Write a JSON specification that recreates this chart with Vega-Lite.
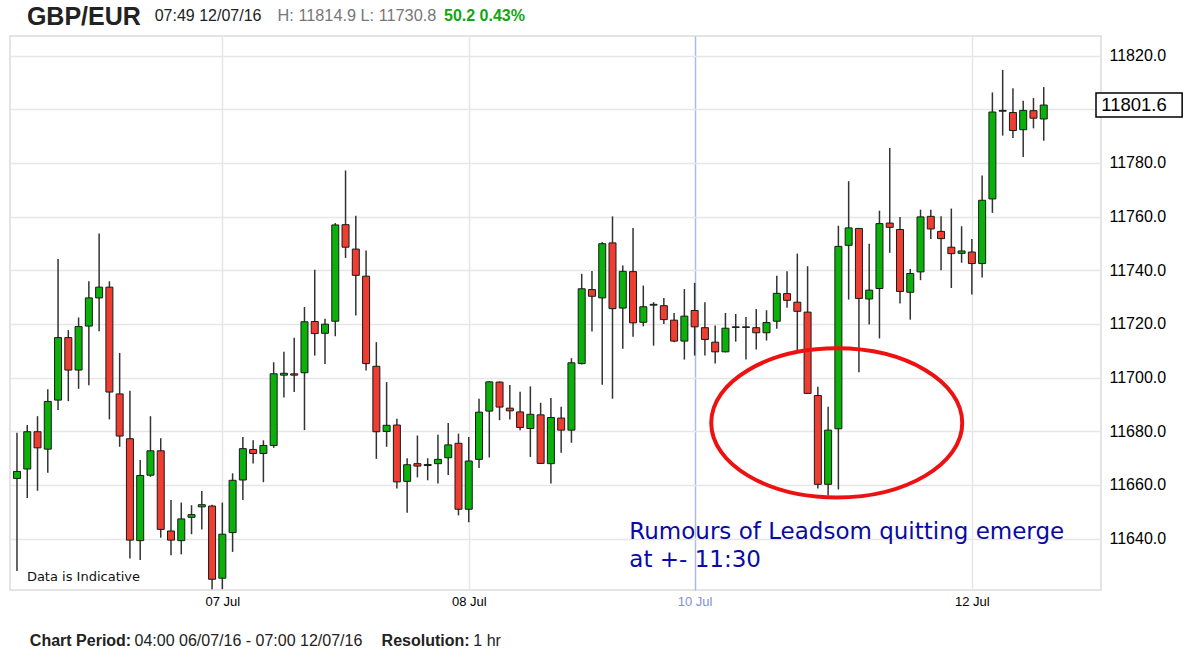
{
  "$schema": "https://vega.github.io/schema/vega-lite/v6.json",
  "width": 1091,
  "height": 554,
  "autosize": {"type": "none"},
  "padding": {"left": 10, "top": 36, "right": 93, "bottom": 68},
  "background": "white",
  "config": {
    "view": {"stroke": "#dcdcdc", "strokeWidth": 1.5},
    "font": "Liberation Sans"
  },
  "data": {"values": [
    {"i":1,"o":11662.4,"h":11679.4,"l":11627.9,"c":11665.0},
    {"i":2,"o":11665.9,"h":11682.3,"l":11655.1,"c":11679.8},
    {"i":3,"o":11679.8,"h":11685.6,"l":11657.8,"c":11673.8},
    {"i":4,"o":11673.3,"h":11695.6,"l":11664.5,"c":11691.1},
    {"i":5,"o":11691.6,"h":11744.2,"l":11687.9,"c":11714.9},
    {"i":6,"o":11714.9,"h":11717.7,"l":11691.2,"c":11702.8},
    {"i":7,"o":11702.8,"h":11722.4,"l":11695.8,"c":11719.0},
    {"i":8,"o":11719.2,"h":11735.9,"l":11697.1,"c":11729.7},
    {"i":9,"o":11729.7,"h":11753.7,"l":11717.3,"c":11733.7},
    {"i":10,"o":11733.7,"h":11735.9,"l":11684.4,"c":11694.6},
    {"i":11,"o":11693.9,"h":11709.2,"l":11674.2,"c":11678.2},
    {"i":12,"o":11677.2,"h":11695.1,"l":11632.5,"c":11639.4},
    {"i":13,"o":11639.2,"h":11669.3,"l":11632.0,"c":11663.5},
    {"i":14,"o":11663.6,"h":11685.6,"l":11663.0,"c":11672.7},
    {"i":15,"o":11672.7,"h":11677.4,"l":11640.3,"c":11643.4},
    {"i":16,"o":11642.8,"h":11654.4,"l":11633.8,"c":11639.4},
    {"i":17,"o":11639.2,"h":11653.4,"l":11634.1,"c":11647.3},
    {"i":18,"o":11647.9,"h":11652.4,"l":11641.6,"c":11648.9},
    {"i":19,"o":11651.8,"h":11657.7,"l":11643.4,"c":11652.6},
    {"i":20,"o":11652.1,"h":11652.6,"l":11621.1,"c":11624.8},
    {"i":21,"o":11625.2,"h":11653.4,"l":11621.1,"c":11641.6},
    {"i":22,"o":11642.2,"h":11664.3,"l":11635.0,"c":11661.7},
    {"i":23,"o":11661.8,"h":11677.8,"l":11654.4,"c":11673.5},
    {"i":24,"o":11673.2,"h":11676.6,"l":11668.0,"c":11671.7},
    {"i":25,"o":11671.7,"h":11676.6,"l":11661.0,"c":11674.7},
    {"i":26,"o":11674.7,"h":11705.7,"l":11673.8,"c":11701.4},
    {"i":27,"o":11700.9,"h":11709.6,"l":11692.6,"c":11701.6},
    {"i":28,"o":11701.4,"h":11714.8,"l":11694.6,"c":11700.9},
    {"i":29,"o":11701.8,"h":11726.3,"l":11680.4,"c":11720.8},
    {"i":30,"o":11720.9,"h":11740.2,"l":11708.2,"c":11716.4},
    {"i":31,"o":11716.5,"h":11721.9,"l":11705.1,"c":11719.9},
    {"i":32,"o":11721.0,"h":11757.6,"l":11715.4,"c":11756.9},
    {"i":33,"o":11757.0,"h":11777.2,"l":11744.6,"c":11748.6},
    {"i":34,"o":11747.9,"h":11760.3,"l":11723.1,"c":11738.1},
    {"i":35,"o":11737.8,"h":11747.4,"l":11702.6,"c":11705.2},
    {"i":36,"o":11704.2,"h":11713.2,"l":11669.7,"c":11679.8},
    {"i":37,"o":11679.9,"h":11698.3,"l":11674.2,"c":11682.2},
    {"i":38,"o":11682.3,"h":11684.6,"l":11658.6,"c":11661.1},
    {"i":39,"o":11661.3,"h":11669.9,"l":11649.6,"c":11667.5},
    {"i":40,"o":11667.9,"h":11678.4,"l":11662.8,"c":11667.0},
    {"i":41,"o":11667.2,"h":11669.9,"l":11661.7,"c":11667.6},
    {"i":42,"o":11667.9,"h":11678.7,"l":11660.5,"c":11669.5},
    {"i":43,"o":11670.1,"h":11683.1,"l":11663.7,"c":11674.9},
    {"i":44,"o":11675.5,"h":11679.1,"l":11648.6,"c":11650.9},
    {"i":45,"o":11650.9,"h":11677.8,"l":11646.1,"c":11668.9},
    {"i":46,"o":11669.5,"h":11692.1,"l":11666.3,"c":11687.1},
    {"i":47,"o":11687.5,"h":11698.7,"l":11670.2,"c":11698.4},
    {"i":48,"o":11698.3,"h":11698.6,"l":11684.1,"c":11689.0},
    {"i":49,"o":11688.6,"h":11697.2,"l":11684.4,"c":11687.6},
    {"i":50,"o":11687.2,"h":11694.7,"l":11680.4,"c":11681.4},
    {"i":51,"o":11681.0,"h":11696.7,"l":11670.4,"c":11686.3},
    {"i":52,"o":11686.1,"h":11690.6,"l":11667.8,"c":11668.0},
    {"i":53,"o":11667.9,"h":11692.4,"l":11660.5,"c":11685.1},
    {"i":54,"o":11684.9,"h":11689.1,"l":11672.0,"c":11680.4},
    {"i":55,"o":11680.4,"h":11707.2,"l":11675.7,"c":11705.5},
    {"i":56,"o":11705.2,"h":11738.7,"l":11704.9,"c":11733.1},
    {"i":57,"o":11732.8,"h":11739.7,"l":11717.2,"c":11730.3},
    {"i":58,"o":11729.7,"h":11750.5,"l":11697.3,"c":11749.9},
    {"i":59,"o":11750.2,"h":11760.1,"l":11692.1,"c":11725.7},
    {"i":60,"o":11725.9,"h":11741.8,"l":11710.7,"c":11739.6},
    {"i":61,"o":11739.5,"h":11755.8,"l":11715.2,"c":11720.4},
    {"i":62,"o":11720.6,"h":11734.3,"l":11719.1,"c":11726.4},
    {"i":63,"o":11727.0,"h":11728.1,"l":11711.9,"c":11727.3},
    {"i":64,"o":11726.8,"h":11729.7,"l":11720.0,"c":11721.6},
    {"i":65,"o":11721.4,"h":11724.1,"l":11713.2,"c":11713.6},
    {"i":66,"o":11713.6,"h":11733.0,"l":11706.7,"c":11722.9},
    {"i":67,"o":11725.0,"h":11735.3,"l":11708.2,"c":11718.9},
    {"i":68,"o":11718.6,"h":11728.1,"l":11708.2,"c":11714.2},
    {"i":69,"o":11713.2,"h":11719.4,"l":11705.2,"c":11709.6},
    {"i":70,"o":11709.6,"h":11724.1,"l":11709.4,"c":11718.4},
    {"i":71,"o":11718.7,"h":11723.7,"l":11713.4,"c":11718.9},
    {"i":72,"o":11718.9,"h":11722.6,"l":11706.7,"c":11718.7},
    {"i":73,"o":11718.6,"h":11725.6,"l":11710.5,"c":11716.7},
    {"i":74,"o":11716.7,"h":11725.1,"l":11713.8,"c":11720.5},
    {"i":75,"o":11721.0,"h":11738.0,"l":11718.2,"c":11731.4},
    {"i":76,"o":11731.3,"h":11739.6,"l":11726.0,"c":11728.8},
    {"i":77,"o":11728.1,"h":11746.2,"l":11709.8,"c":11724.7},
    {"i":78,"o":11724.4,"h":11741.5,"l":11693.9,"c":11694.1},
    {"i":79,"o":11693.3,"h":11696.6,"l":11658.6,"c":11660.2},
    {"i":80,"o":11660.2,"h":11689.1,"l":11656.0,"c":11680.4},
    {"i":81,"o":11680.9,"h":11756.6,"l":11658.3,"c":11748.9},
    {"i":82,"o":11749.3,"h":11773.2,"l":11729.1,"c":11755.8},
    {"i":83,"o":11755.6,"h":11755.8,"l":11702.0,"c":11729.5},
    {"i":84,"o":11729.3,"h":11749.9,"l":11719.8,"c":11732.6},
    {"i":85,"o":11733.2,"h":11762.2,"l":11714.6,"c":11757.4},
    {"i":86,"o":11757.6,"h":11785.6,"l":11746.5,"c":11756.0},
    {"i":87,"o":11755.2,"h":11759.9,"l":11727.6,"c":11732.1},
    {"i":88,"o":11731.8,"h":11740.5,"l":11721.6,"c":11738.8},
    {"i":89,"o":11739.4,"h":11762.6,"l":11736.3,"c":11759.9},
    {"i":90,"o":11760.1,"h":11762.6,"l":11751.7,"c":11755.4},
    {"i":91,"o":11754.5,"h":11760.1,"l":11740.0,"c":11751.8},
    {"i":92,"o":11748.6,"h":11763.0,"l":11733.4,"c":11746.2},
    {"i":93,"o":11746.3,"h":11756.4,"l":11742.8,"c":11747.2},
    {"i":94,"o":11746.8,"h":11751.7,"l":11731.0,"c":11742.5},
    {"i":95,"o":11742.5,"h":11775.3,"l":11737.3,"c":11766.1},
    {"i":96,"o":11766.6,"h":11806.3,"l":11761.4,"c":11799.0},
    {"i":97,"o":11799.3,"h":11814.7,"l":11790.2,"c":11799.6},
    {"i":98,"o":11798.8,"h":11807.9,"l":11789.3,"c":11792.1},
    {"i":99,"o":11792.4,"h":11803.2,"l":11782.2,"c":11799.6},
    {"i":100,"o":11799.5,"h":11804.2,"l":11792.9,"c":11796.7},
    {"i":101,"o":11796.4,"h":11808.3,"l":11788.3,"c":11801.6}
  ]},
  "layer": [
    {
      "mark": {"type": "rule", "color": "#333333", "strokeWidth": 1.5, "clip": true},
      "encoding": {
        "x": {
          "field": "i", "type": "quantitative",
          "scale": {"domain": [0.807, 106.09], "nice": false, "zero": false},
          "axis": {
            "title": null,
            "values": [21, 45, 67, 94],
            "labelExpr": "datum.value == 21 ? '07 Jul' : datum.value == 45 ? '08 Jul' : datum.value == 67 ? '10 Jul' : '12 Jul'",
            "labelFont": "Liberation Sans",
            "labelFontSize": 13,
            "labelColor": {"condition": {"test": "datum.value == 67", "value": "#7f90d8"}, "value": "#000000"},
            "labelPadding": 5,
            "ticks": false,
            "domain": false,
            "grid": true,
            "gridColor": {"condition": {"test": "datum.value == 67", "value": "#aebbe8"}, "value": "#e6e6e6"},
            "gridWidth": 1.5,
            "gridOpacity": 1
          }
        },
        "y": {
          "field": "l", "type": "quantitative",
          "scale": {"domain": [11620.8, 11827.34], "nice": false, "zero": false},
          "axis": {
            "title": null,
            "orient": "right",
            "values": [11640, 11660, 11680, 11700, 11720, 11740, 11760, 11780, 11800, 11820],
            "labelExpr": "datum.value == 11800 ? '' : format(datum.value, '.1f')",
            "labelFont": "Liberation Sans",
            "labelFontSize": 16,
            "labelColor": "#000000",
            "labelPadding": 8,
            "ticks": false,
            "domain": false,
            "grid": true,
            "gridColor": "#e6e6e6",
            "gridWidth": 1.5,
            "gridOpacity": 1
          }
        },
        "y2": {"field": "h"}
      }
    },
    {
      "mark": {"type": "bar", "width": 7, "stroke": "#1a1a1a", "strokeWidth": 1, "clip": true},
      "encoding": {
        "x": {"field": "i", "type": "quantitative"},
        "y": {"field": "o", "type": "quantitative"},
        "y2": {"field": "c"},
        "fill": {"condition": {"test": "datum.c >= datum.o", "value": "#0ab10a"}, "value": "#ee3d31"}
      }
    },
    {
      "data": {"values": [{}]},
      "mark": {"type": "point", "shape": "M -1 0 A 1 0.594 0 1 1 1 0 A 1 0.594 0 1 1 -1 0 Z", "size": 63001, "filled": false, "stroke": "#ee1111", "strokeWidth": 4, "opacity": 1},
      "encoding": {
        "x": {"datum": 80.84, "type": "quantitative"},
        "y": {"datum": 11683.1, "type": "quantitative"}
      }
    },
    {
      "data": {"values": [{}]},
      "mark": {"type": "text", "text": ["Rumours of Leadsom quitting emerge", "at +- 11:30"], "font": "DejaVu Sans", "fontSize": 23, "lineHeight": 28, "align": "left", "baseline": "alphabetic", "color": "#0a0aa5"},
      "encoding": {
        "x": {"datum": 60.64, "type": "quantitative"},
        "y": {"datum": 11639.9, "type": "quantitative"}
      }
    },
    {
      "data": {"values": [{}]},
      "mark": {"type": "text", "text": "Data is Indicative", "font": "DejaVu Sans", "fontSize": 13, "align": "left", "baseline": "middle", "color": "#111111"},
      "encoding": {
        "x": {"datum": 1.965, "type": "quantitative"},
        "y": {"datum": 11625.7, "type": "quantitative"}
      }
    },
    {
      "data": {"values": [{}]},
      "mark": {"type": "rect", "fill": "white", "stroke": "#000000", "strokeWidth": 1.5},
      "encoding": {
        "x": {"datum": 106.09, "type": "quantitative"},
        "x2": {"datum": 114.48},
        "y": {"datum": 11806.05, "type": "quantitative"},
        "y2": {"datum": 11797.1}
      }
    },
    {
      "data": {"values": [{}]},
      "mark": {"type": "text", "text": "11801.6", "font": "Liberation Sans", "fontSize": 18.5, "align": "left", "baseline": "middle", "color": "#000000"},
      "encoding": {
        "x": {"datum": 106.6, "type": "quantitative"},
        "y": {"datum": 11801.6, "type": "quantitative"}
      }
    },
    {
      "data": {"values": [{}]},
      "mark": {"type": "text", "text": "GBP/EUR", "font": "Liberation Sans", "fontWeight": "bold", "fontSize": 25, "align": "left", "baseline": "alphabetic", "color": "#222222"},
      "encoding": {
        "x": {"datum": 1.965, "type": "quantitative"},
        "y": {"datum": 11831.3, "type": "quantitative"}
      }
    },
    {
      "data": {"values": [{}]},
      "mark": {"type": "text", "text": "07:49 12/07/16", "font": "Liberation Sans", "fontSize": 16, "align": "left", "baseline": "alphabetic", "color": "#222222"},
      "encoding": {
        "x": {"datum": 14.41, "type": "quantitative"},
        "y": {"datum": 11833.0, "type": "quantitative"}
      }
    },
    {
      "data": {"values": [{}]},
      "mark": {"type": "text", "text": "H: 11814.9 L: 11730.8", "font": "Liberation Sans", "fontSize": 16.3, "align": "left", "baseline": "alphabetic", "color": "#777777"},
      "encoding": {
        "x": {"datum": 26.38, "type": "quantitative"},
        "y": {"datum": 11833.0, "type": "quantitative"}
      }
    },
    {
      "data": {"values": [{}]},
      "mark": {"type": "text", "text": "50.2 0.43%", "font": "Liberation Sans", "fontWeight": "bold", "fontSize": 16, "align": "left", "baseline": "alphabetic", "color": "#10a810"},
      "encoding": {
        "x": {"datum": 42.59, "type": "quantitative"},
        "y": {"datum": 11833.0, "type": "quantitative"}
      }
    },
    {
      "data": {"values": [{}]},
      "mark": {"type": "text", "text": "Chart Period:", "font": "Liberation Sans", "fontWeight": "bold", "fontSize": 16, "align": "left", "baseline": "alphabetic", "color": "#222222"},
      "encoding": {
        "x": {"datum": 2.254, "type": "quantitative"},
        "y": {"datum": 11599.9, "type": "quantitative"}
      }
    },
    {
      "data": {"values": [{}]},
      "mark": {"type": "text", "text": "04:00 06/07/16 - 07:00 12/07/16", "font": "Liberation Sans", "fontSize": 16, "align": "left", "baseline": "alphabetic", "color": "#222222"},
      "encoding": {
        "x": {"datum": 12.45, "type": "quantitative"},
        "y": {"datum": 11599.9, "type": "quantitative"}
      }
    },
    {
      "data": {"values": [{}]},
      "mark": {"type": "text", "text": "Resolution:", "font": "Liberation Sans", "fontWeight": "bold", "fontSize": 16, "align": "left", "baseline": "alphabetic", "color": "#222222"},
      "encoding": {
        "x": {"datum": 36.51, "type": "quantitative"},
        "y": {"datum": 11599.9, "type": "quantitative"}
      }
    },
    {
      "data": {"values": [{}]},
      "mark": {"type": "text", "text": "1 hr", "font": "Liberation Sans", "fontSize": 16, "align": "left", "baseline": "alphabetic", "color": "#222222"},
      "encoding": {
        "x": {"datum": 45.45, "type": "quantitative"},
        "y": {"datum": 11599.9, "type": "quantitative"}
      }
    }
  ]
}
